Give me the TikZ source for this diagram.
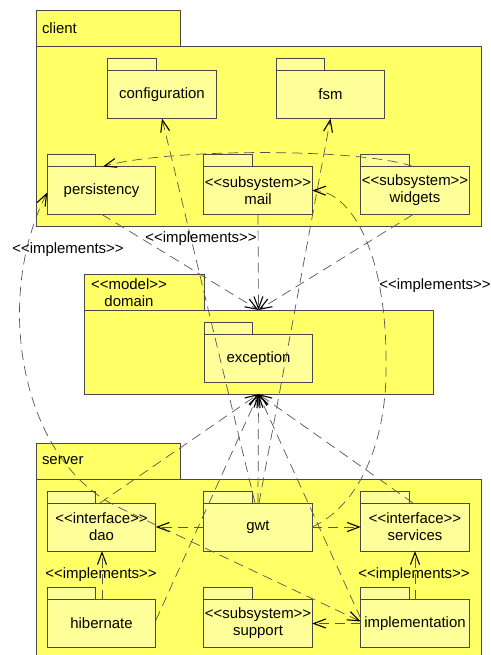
\documentclass[tikz,border=0pt]{standalone}
\usepackage{fontspec}
\newfontfamily\umlfont{Liberation Sans}
\usetikzlibrary{arrows.meta,calc}
\definecolor{pkgouter}{RGB}{255,255,102}
\definecolor{pkginner}{RGB}{255,255,153}
\definecolor{pkgline}{RGB}{72,72,72}
\definecolor{depline}{RGB}{85,85,85}
\begin{document}
\begin{tikzpicture}[x=1bp,y=-1bp,
  >={Straight Barb[black,length=12bp,width=9bp,line width=1.1bp]},
  every node/.style={font=\umlfont\fontsize{15}{17}\selectfont,inner sep=0pt,outer sep=0pt},
  outerpkg/.style={draw=pkgline,fill=pkgouter,line width=0.8bp},
  innerpkg/.style={draw=pkgline,fill=pkginner,line width=0.8bp,
    minimum width=108.5bp,minimum height=48bp,align=center},
  innertab/.style={draw=pkgline,fill=pkginner,line width=0.8bp},
  dep/.style={draw=depline,line width=0.7bp,dash pattern=on 10bp off 6bp}]
\useasboundingbox (0,0) rectangle (491,655);

% ---- container packages ----
\node[outerpkg,minimum width=445bp,minimum height=180bp] (client) at (258.5,136) {};
\node[outerpkg,minimum width=144bp,minimum height=36bp,anchor=south west] (clienttab) at (client.north west) {};
\node[anchor=west] (clientname) at (42,28) {client};

\node[outerpkg,minimum width=349bp,minimum height=84bp] (domain) at (258.5,352) {};
\node[outerpkg,minimum width=120bp,minimum height=36bp,anchor=south west] (domaintab) at (domain.north west) {};
\node[align=center] (domainname) at (129,292.5) {<<model>>\\domain};

\node[outerpkg,minimum width=445bp,minimum height=181bp] (server) at (258.5,569.5) {};
\node[outerpkg,minimum width=144bp,minimum height=36bp,anchor=south west] (servertab) at (server.north west) {};
\node[anchor=west] (servername) at (42,461) {server};

% ---- nested packages ----
\node[innerpkg] (configuration) at (162,94.5) {configuration};
\node[innerpkg] (fsm) at (330.5,94.5) {fsm};
\node[innerpkg] (persistency) at (101.5,190.5) {persistency};
\node[innerpkg] (mail) at (258,190.5) {<<subsystem>>\\mail};
\node[innerpkg] (widgets) at (415,190.5) {<<subsystem>>\\widgets};
\node[innerpkg] (exception) at (258.5,358.5) {exception};
\node[innerpkg] (dao) at (101.5,527) {<<interface>>\\dao};
\node[innerpkg] (gwt) at (258,527) {gwt};
\node[innerpkg] (services) at (415,527) {<<interface>>\\services};
\node[innerpkg] (hibernate) at (101.5,623.5) {hibernate};
\node[innerpkg] (support) at (258,623.5) {<<subsystem>>\\support};
\node[innerpkg] (implementation) at (415,623.5) {implementation};
\foreach \p in {configuration,fsm,persistency,mail,widgets,exception,dao,gwt,services,hibernate,support,implementation}
  \draw[innertab] (\p.north west) rectangle ++(48.5,-12);

% ---- bend points of the curved dependencies ----
\coordinate (gwtmailbend) at (386,360);
\coordinate (spinebend) at (120,508);

% ---- dependencies ----
\draw[dep,->] ($(widgets.north)+(-2,0)$) .. controls (360,148) and (170,148) .. ($(persistency.north)+(1.5,0)$);
\draw[dep,->] ($(gwt.north)+(-3,0)$) -- (configuration.south);
\draw[dep,->] ($(gwt.north)+(1,0)$) -- (fsm.south);
\draw[dep,->] (gwt.north) -- (domain.south);
\draw[dep,->] ($(dao.north)+(-1.5,0)$) -- (domain.south);
\draw[dep,->] ($(hibernate.east)+(0,-3)$) -- (domain.south);
\draw[dep,->] ($(services.north)+(-2,0)$) -- (domain.south);
\draw[dep,->] ($(implementation.west)+(0,-5)$) -- (domain.south);
\draw[dep,->] ($(persistency.south)+(0.5,0)$) -- (domain.north);
\draw[dep,->] (mail.south) -- (domain.north);
\draw[dep,->] ($(widgets.south)+(-2,0)$) -- (domain.north);
\draw[dep,->] (gwt.east) .. controls (360,505) and (388,440) .. (gwtmailbend)
  .. controls (386,250) and (350,191) .. (mail.east);
\draw[dep,->] (gwt.east) -- (services.west);
\draw[dep,->] (gwt.west) -- (dao.east);
\draw[dep,->] ($(hibernate.north)+(0.5,0)$) -- ($(dao.south)+(0.5,0)$);
\draw[dep,->] (implementation.north) -- (services.south);
\draw[dep,->] (implementation.west) -- (support.east);
\draw[dep,<->] ($(implementation.west)+(0,-2)$) -- (spinebend)
  .. controls (20,462) and (-7,299) .. ($(persistency.west)+(0,2)$);

% ---- stereotype labels ----
\node (implpersist) at (68,250) {<<implements>>};
\node (implmail) at (201,239) {<<implements>>};
\node (implgwt) at (435,286) {<<implements>>};
\node (impldao) at (101,575) {<<implements>>};
\node (implservices) at (414,575) {<<implements>>};
\end{tikzpicture}
\end{document}
